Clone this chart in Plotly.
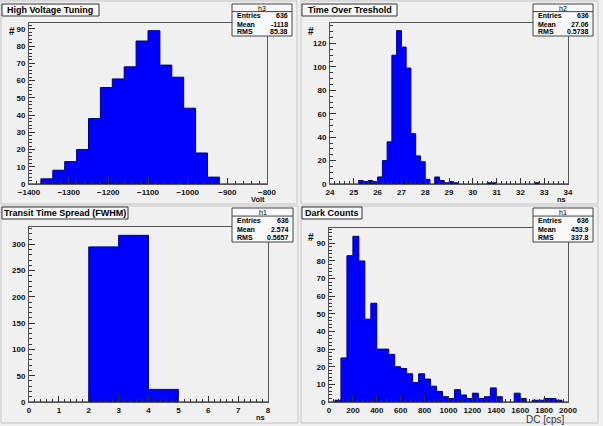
import numpy as np
import plotly.graph_objects as go

W, H = 603, 426

# ---------------- data ----------------
hv_lo, hv_width = -1400, 30
hv_counts = [0, 3, 8, 13, 20, 38, 56, 61, 68, 83, 89, 69, 62, 44, 18, 4, 0, 0, 0, 0]

tot_lo, tot_width = 24.0, 0.2
tot_counts = [0, 0, 0, 0, 0, 0, 3, 2, 3, 2, 6, 20, 36, 110, 131, 117, 99, 43, 24, 19,
              4, 0, 6, 3, 1, 2, 1, 0, 0, 0, 0, 0, 0, 1, 1, 0, 0, 0, 0, 0,
              0, 0, 0, 1, 0, 0, 0, 0, 0, 0]

tts_lo, tts_width = 0, 1
tts_counts = [0, 0, 295, 317, 24, 0, 0, 0]

dc_lo, dc_width = 0, 50
dc_counts = [0, 1, 25, 83, 94, 80, 47, 56, 30, 30, 27, 20, 19, 16, 11, 16, 13, 9, 6, 3,
             2, 7, 4, 2, 5, 2, 3, 8, 3, 0, 0, 5, 2, 0, 1, 1, 2, 2, 1, 0]

titles = ["High Voltage Tuning", "Time Over Treshold", "Transit Time Spread (FWHM)", "Dark Counts"]
hist_names = ["h3", "h2", "h1", "h1"]
stat_entries = ["636", "636", "636", "636"]
stat_means = ["-1118", "27.06", "2.574", "453.9"]
stat_rms = ["85.38", "0.5738", "0.5657", "337.8"]
x_titles = ["Volt", "ns", "ns", "DC [cps]"]

# ---------------- helpers ----------------
def px(x):
    return x / W

def py(y):
    return 1 - y / H

BG = "#f0f0f0"
BLUE = "#0000ff"
FONT = "Liberation Sans"

fig = go.Figure()

def step_trace(lo, width, counts, ax):
    edges = lo + width * np.arange(len(counts) + 1)
    xs = [edges[0]] + list(edges[:-1]) + [edges[-1], edges[-1]]
    ys = [0] + list(counts) + [counts[-1], 0]
    fig.add_trace(go.Scatter(x=xs, y=ys, mode="lines", line_shape="hv",
                             fill="tozeroy", fillcolor=BLUE,
                             line=dict(color="#00007a", width=1),
                             xaxis="x" + ax, yaxis="y" + ax, hoverinfo="skip",
                             showlegend=False))

hists = [(hv_lo, hv_width, hv_counts), (tot_lo, tot_width, tot_counts),
         (tts_lo, tts_width, tts_counts), (dc_lo, dc_width, dc_counts)]
axids = ["", "2", "3", "4"]
for (lo, w, c), a in zip(hists, axids):
    step_trace(lo, w, c, a)

# plot-area geometry (pixels): x0, x1, ytop, ybottom
areas = [(29, 267, 23, 184), (330, 568, 23, 184), (29, 268, 227, 402), (329, 568, 228, 402)]
xranges = [(-1400, -800), (24, 34), (0, 8), (0, 2000)]
xdt = [(100, 20), (1, 0.2), (1, 0.2), (200, 40)]
ydt = [(10, 2), (20, 5), (50, 10), (10, 2)]

layout = dict(width=W, height=H, margin=dict(l=0, r=0, t=0, b=0, pad=0, autoexpand=False),
              paper_bgcolor=BG, plot_bgcolor=BG, showlegend=False)

tickfont = dict(family=FONT, size=8, color="#111", weight="bold")
for i, a in enumerate(axids):
    x0, x1, yt, yb = areas[i]
    counts = hists[i][2]
    ymax = 1.05 * max(counts)
    common = dict(showline=True, linecolor="#555", linewidth=1, mirror=True,
                  showgrid=False, zeroline=False, ticks="inside", tickcolor="#333",
                  ticklen=6, tickwidth=1, tickfont=tickfont, automargin=False)
    layout["xaxis" + a] = dict(common, domain=[px(x0), px(x1)], range=list(xranges[i]),
                               anchor="y" + a, dtick=xdt[i][0], tick0=0,
                               minor=dict(dtick=xdt[i][1], ticks="inside", ticklen=3,
                                          tickcolor="#333", showgrid=False))
    layout["yaxis" + a] = dict(common, domain=[py(yb), py(yt)], range=[0, ymax],
                               anchor="x" + a, dtick=ydt[i][0], tick0=0,
                               minor=dict(dtick=ydt[i][1], ticks="inside", ticklen=3,
                                          tickcolor="#333", showgrid=False),
                               ticklabelstandoff=1)

fig.update_layout(**layout)

shapes = []
annos = []

# pad borders
pads = [(1, 1, 297, 204), (301, 1, 598, 204), (1, 206, 298, 423), (301, 206, 598, 423)]
for (a, b, c, d) in pads:
    shapes.append(dict(type="rect", xref="paper", yref="paper", x0=px(a), x1=px(c),
                       y0=py(d), y1=py(b), line=dict(color="#c4c4c4", width=1)))

# title boxes
tboxes = [(2, 4, 99, 16), (302, 4, 397, 16), (2, 207, 128, 219), (302, 207, 362, 219)]
for t, (a, b, c, d) in zip(titles, tboxes):
    shapes.append(dict(type="rect", xref="paper", yref="paper", x0=px(a), x1=px(c),
                       y0=py(d), y1=py(b), fillcolor="#f8f8f8",
                       line=dict(color="#333", width=1)))
    annos.append(dict(text=t, xref="paper", yref="paper", x=px((a + c) / 2),
                      y=py((b + d) / 2), xanchor="center", yanchor="middle",
                      showarrow=False, font=dict(family=FONT, size=9, color="#000",
                                                 weight="bold")))

# stats boxes
sboxes = [(232, 4, 292, 36), (533, 4, 593, 36), (232, 208, 293, 242), (533, 208, 593, 242)]
sfont = dict(family=FONT, size=7, color="#000", weight="bold")
for i, (a, b, c, d) in enumerate(sboxes):
    shapes.append(dict(type="rect", xref="paper", yref="paper", x0=px(a), x1=px(c),
                       y0=py(d), y1=py(b), fillcolor="#f8f8f8",
                       line=dict(color="#444", width=1)))
    rh = (d - b) / 4.0
    sep = b + rh * 0.95
    shapes.append(dict(type="line", xref="paper", yref="paper", x0=px(a), x1=px(c),
                       y0=py(sep), y1=py(sep), line=dict(color="#444", width=1)))
    annos.append(dict(text=hist_names[i], xref="paper", yref="paper", x=px((a + c) / 2),
                      y=py(b + rh * 0.5), xanchor="center", yanchor="middle",
                      showarrow=False, font=dict(family=FONT, size=7, color="#000")))
    rows = [("Entries", stat_entries[i]), ("Mean", stat_means[i]), ("RMS", stat_rms[i])]
    for k, (lab, val) in enumerate(rows):
        yc = sep + rh * (k + 0.55)
        annos.append(dict(text=lab, xref="paper", yref="paper", x=px(a + 3), y=py(yc),
                          xanchor="left", yanchor="middle", showarrow=False, font=sfont))
        annos.append(dict(text=val, xref="paper", yref="paper", x=px(c - 2), y=py(yc),
                          xanchor="right", yanchor="middle", showarrow=False, font=sfont))

# axis titles
xt_pos = [(267, 199), (568, 199), (267, 417), (567, 419)]
for i, (xx, yy) in enumerate(xt_pos):
    if i == 3:
        f = dict(family=FONT, size=10, color="#333")
    else:
        f = dict(family=FONT, size=7.5, color="#111", weight="bold")
    annos.append(dict(text=x_titles[i], xref="paper", yref="paper", x=px(xx), y=py(yy),
                      xanchor="right", yanchor="middle", showarrow=False, font=f))

hash_pos = [(12, 31), (311, 31), None, (311, 237)]
for hp in hash_pos:
    if hp is None:
        continue
    annos.append(dict(text="#", xref="paper", yref="paper", x=px(hp[0]), y=py(hp[1]),
                      xanchor="center", yanchor="middle", showarrow=False,
                      font=dict(family=FONT, size=10, color="#111", weight="bold")))

fig.update_layout(shapes=shapes, annotations=annos)
fig.write_html("out.html")
